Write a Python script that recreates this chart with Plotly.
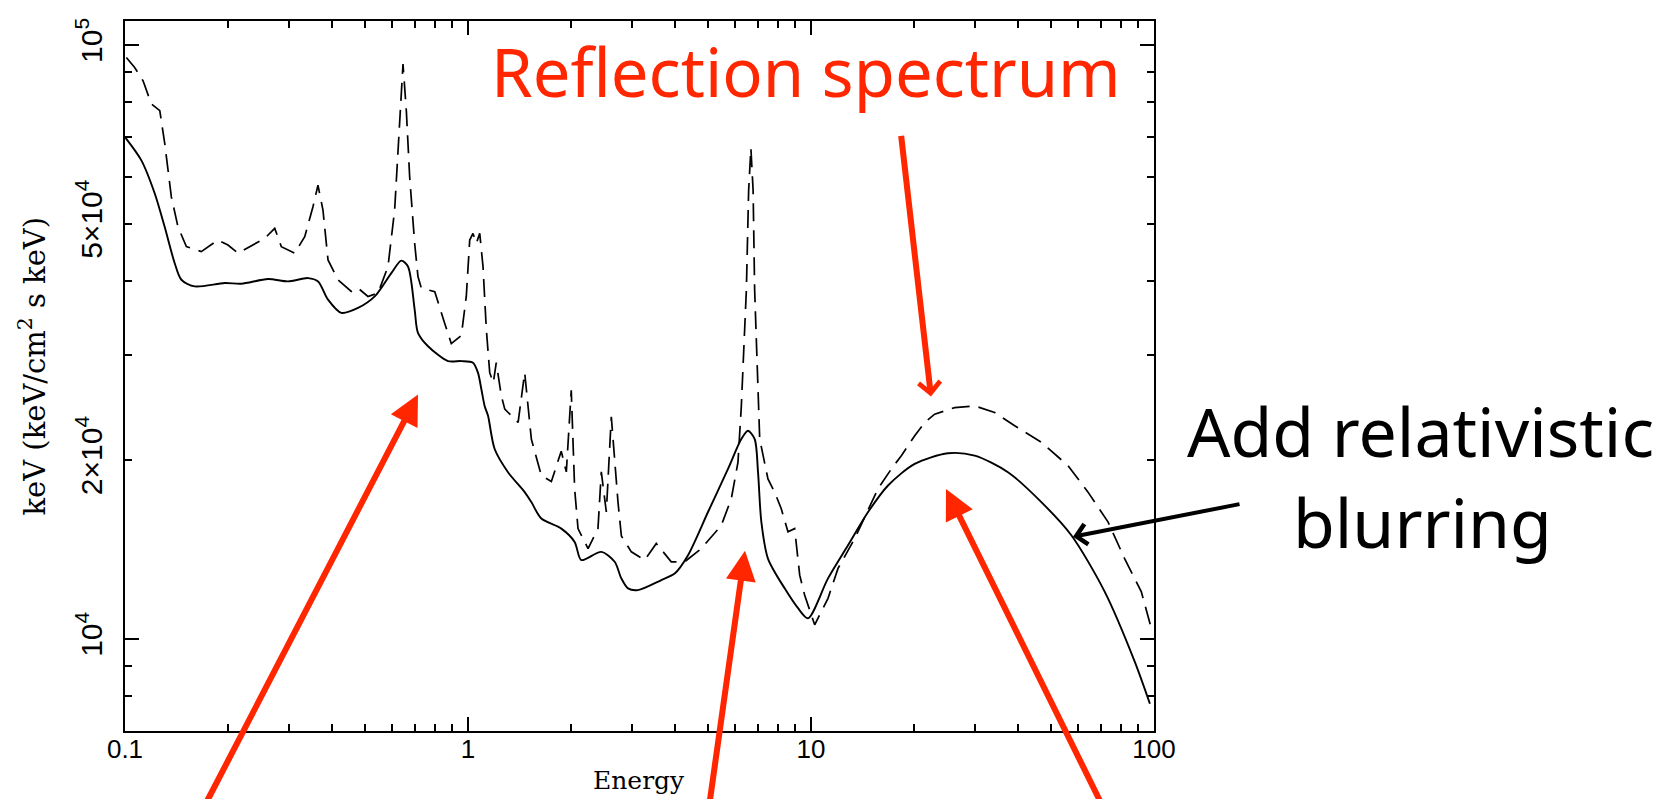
import plotly.graph_objects as go

# ---------------- data ----------------
# Blurred (relativistic) reflection spectrum - solid line
energy_blur = [0.100, 0.1116, 0.1221, 0.1305, 0.1396, 0.146, 0.1596, 0.1953, 0.2183, 0.2612,
               0.2987, 0.3416, 0.3655, 0.3908, 0.4272, 0.4778, 0.5346, 0.5976, 0.6392, 0.6683,
               0.699, 0.7147, 0.7647, 0.8743, 0.956, 1.034, 1.069, 1.094, 1.118, 1.144,
               1.196, 1.308, 1.463, 1.53, 1.636, 1.871, 2.046, 2.14, 2.447, 2.677,
               2.799, 2.928, 3.13, 3.662, 4.005, 4.38, 5.009, 5.728, 6.264, 6.551,
               6.852, 7.007, 7.165, 7.49, 8.38, 9.166, 9.80, 11.21, 12.82, 14.67,
               16.77, 20.06, 25.08, 30.01, 37.52, 46.94, 57.41, 71.8, 87.8, 97.3]
flux_blur = [69930, 63900, 56200, 49400, 42900, 40230, 39210, 39720, 39610, 40340,
             39970, 40490, 39970, 37240, 35380, 36060, 37710, 41280, 43330, 42340,
             35840, 32750, 31090, 29350, 29350, 29170, 28060, 26310, 24670, 23740,
             20870, 19080, 17660, 16990, 15940, 15330, 14560, 13570, 14010, 13480,
             12640, 12160, 12080, 12560, 12880, 13830, 16350, 19320, 21690, 22400,
             21690, 19080, 15740, 13650, 12160, 11260, 10830, 12640, 14370, 16350,
             18120, 19700, 20530, 20340, 19080, 16990, 14940, 12010, 9165, 7775]

# Unblurred reflection spectrum - dashed line
energy_refl = [0.1009, 0.1067, 0.1129, 0.1193, 0.1263, 0.1306, 0.1365, 0.1427, 0.151, 0.1669,
               0.1866, 0.1996, 0.2135, 0.2555, 0.2732, 0.2856, 0.3124, 0.3342, 0.3532, 0.3652,
               0.3777, 0.3907, 0.4178, 0.4568, 0.4778, 0.511, 0.5465, 0.5844, 0.6111, 0.6321,
               0.6464, 0.661, 0.676, 0.699, 0.7147, 0.731, 0.80, 0.855, 0.894, 0.956,
               0.9886, 1.0116, 1.034, 1.0575, 1.082, 1.106, 1.131, 1.157, 1.185, 1.209,
               1.251, 1.28, 1.40, 1.463, 1.53, 1.636, 1.75, 1.87, 1.935, 2.0,
               2.046, 2.093, 2.239, 2.393, 2.447, 2.531, 2.617, 2.737, 2.80, 2.994,
               3.274, 3.54, 3.914, 4.28, 4.788, 5.475, 5.856, 6.125, 6.265, 6.48,
               6.58, 6.68, 6.78, 6.85, 7.007, 7.087, 7.49, 7.834, 8.19, 8.567,
               8.96, 9.27, 9.58, 10.25, 11.21, 11.99, 13.41, 15.68, 17.15, 18.34,
               20.06, 21.46, 22.94, 26.24, 30.0, 34.31, 39.25, 46.94, 56.15, 64.22,
               73.42, 82.1, 91.8, 98.2]
flux_refl = [95200, 91600, 87000, 79560, 77500, 68170, 55470, 49400, 45740, 44870,
             46930, 46030, 44590, 47230, 49100, 45740, 44590, 47530, 53380, 58030,
             52720, 43440, 40220, 38450, 38960, 37710, 38200, 42340, 52720, 72660,
             92800, 77500, 59930, 46340, 40740, 38960, 38400, 34000, 31400, 32400,
             37710, 46930, 48150, 46340, 48150, 42340, 33170, 28060, 26990, 29170,
             25650, 24360, 23140, 28060, 21690, 18830, 18400, 20700, 19100, 26210,
             17890, 15330, 14190, 15330, 19100, 16350, 23640, 16990, 14900, 14010,
             13570, 14470, 13480, 13480, 14190, 15520, 17210, 19830, 24670, 38700,
             56910, 67000, 56910, 38700, 26310, 21690, 18590, 17660, 16560, 15140,
             15330, 12800, 11850, 10560, 11700, 13140, 14750, 17890, 19320, 20340,
             21980, 23140, 23890, 24510, 24670, 24050, 22840, 21420, 19570, 17660,
             15740, 13650, 12010, 10420]

x_tick_vals = [0.1, 1, 10, 100]
x_tick_text = ["0.1", "1", "10", "100"]
x_minor_vals = [m * d for d in (0.1, 1, 10) for m in range(2, 10)]
y_tick_vals = [1e4, 2e4, 5e4, 1e5]
y_tick_text = ["10<sup>4</sup>", "2\u00d710<sup>4</sup>", "5\u00d710<sup>4</sup>", "10<sup>5</sup>"]
y_major_vals = [1e4, 1e5]
y_minor_vals = [7e3, 8e3, 9e3, 3e4, 4e4, 6e4, 7e4, 8e4, 9e4]

# ---------------- layout geometry ----------------
W, H = 1674, 799
L, R, T, B = 117, 528, 10, 76
PW, PH = W - L - R, H - T - B
X_RANGE = [-1, 2]
Y_RANGE = [3.8448, 5.0402]
RED = "#FF2600"


def px(x, y):
    """page pixel -> paper coordinates"""
    return (x - L) / PW, (H - B - y) / PH


fig = go.Figure()
fig.add_trace(go.Scatter(x=energy_refl, y=flux_refl, mode="lines",
                         line=dict(color="black", width=1.7, dash="18px,9px"),
                         hoverinfo="skip"))
fig.add_trace(go.Scatter(x=energy_blur, y=flux_blur, mode="lines",
                         line=dict(color="black", width=1.9, shape="spline", smoothing=0.8),
                         hoverinfo="skip"))
# invisible trace to carry the long major y ticks
fig.add_trace(go.Scatter(x=[1], y=[2e4], yaxis="y2", mode="markers",
                         marker=dict(opacity=0), hoverinfo="skip"))

axis_common = dict(showgrid=False, zeroline=False, showline=True, linecolor="black",
                   linewidth=2, ticks="inside", tickcolor="black", tickwidth=2,
                   mirror="ticks")

fig.update_layout(
    width=W, height=H,
    margin=dict(l=L, r=R, t=T, b=B, pad=0),
    paper_bgcolor="white", plot_bgcolor="white",
    showlegend=False,
    xaxis=dict(type="log", range=X_RANGE, tickmode="array", tickvals=x_tick_vals,
               ticktext=x_tick_text, ticklen=14, ticklabelstandoff=-6,
               tickfont=dict(family="Liberation Sans", size=26, color="black"),
               minor=dict(tickmode="array", tickvals=x_minor_vals, ticks="inside",
                          ticklen=7, tickwidth=2, tickcolor="black", showgrid=False),
               **axis_common),
    yaxis=dict(type="log", range=Y_RANGE, tickmode="array", tickvals=y_tick_vals,
               ticktext=y_tick_text, ticklen=7, tickangle=-90, ticklabelstandoff=9,
               tickfont=dict(family="Liberation Sans", size=30, color="black"),
               minor=dict(tickmode="array", tickvals=y_minor_vals, ticks="inside",
                          ticklen=7, tickwidth=2, tickcolor="black", showgrid=False),
               **axis_common),
    yaxis2=dict(type="log", range=Y_RANGE, overlaying="y", anchor="x", side="left",
                tickmode="array", tickvals=y_major_vals, ticklen=14,
                showticklabels=False, **axis_common),
)

ann = []
# axis titles
tx, ty = px(631, 773)
ann.append(dict(x=tx, y=ty, xref="paper", yref="paper", text="Energy", showarrow=False,
                xanchor="center", yanchor="middle",
                font=dict(family="DejaVu Serif", size=25, color="black")))
tx, ty = px(24, 357)
ann.append(dict(x=tx, y=ty, xref="paper", yref="paper",
                text="keV (keV/cm<sup>2</sup> s keV)", showarrow=False, textangle=-90,
                xanchor="center", yanchor="middle",
                font=dict(family="DejaVu Serif", size=29, color="black")))
# big texts
tx, ty = px(798, 60)
ann.append(dict(x=tx, y=ty, xref="paper", yref="paper", text="Reflection spectrum",
                showarrow=False, xanchor="center", yanchor="middle",
                font=dict(family="Noto Sans", size=67, color=RED)))
tx, ty = px(1412, 421)
ann.append(dict(x=tx, y=ty, xref="paper", yref="paper", text="Add relativistic",
                showarrow=False, xanchor="center", yanchor="middle",
                font=dict(family="Noto Sans", size=68, color="black")))
tx, ty = px(1414, 513)
ann.append(dict(x=tx, y=ty, xref="paper", yref="paper", text="blurring",
                showarrow=False, xanchor="center", yanchor="middle",
                font=dict(family="Noto Sans", size=68, color="black")))

# arrows: (tip_x, tip_y, tail_x, tail_y, color, width, head, size)
arrows = [
    (410, 385, 196, 807, RED, 6, 2, 1.0),
    (737, 542, 701, 810, RED, 6, 2, 1.0),
    (938, 480, 1095, 810, RED, 6, 2, 1.0),
    (923, 387, 893, 125, RED, 6, 4, 0.7),
    (1065, 528, 1233, 495, "black", 4, 4, 1.0),
]
for x0, y0, x1, y1, col, wd, hd, sz in arrows:
    tx, ty = px(x0, y0)
    ann.append(dict(x=tx, y=ty, xref="paper", yref="paper", text="", showarrow=True,
                    ax=x1 - x0, ay=y1 - y0, axref="pixel", ayref="pixel",
                    arrowcolor=col, arrowwidth=wd, arrowhead=hd, arrowsize=sz,
                    standoff=0))
fig.update_layout(annotations=ann)

fig.write_html("out.html")
